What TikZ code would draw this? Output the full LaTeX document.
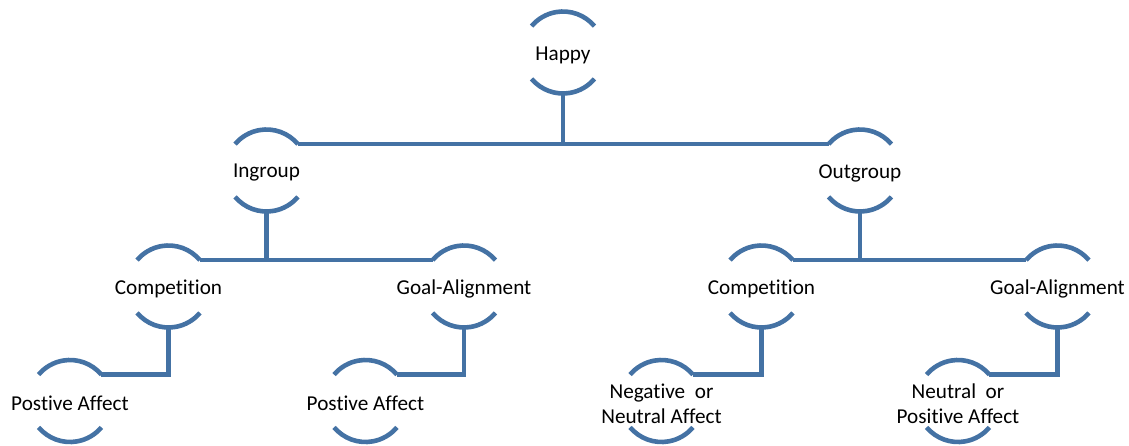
\documentclass[tikz,border=0pt]{standalone}
\usepackage{fontspec}
\setmainfont{Carlito}[Ligatures={NoCommon}]
\definecolor{linkblue}{RGB}{68,114,164}
\tikzset{
  bub/.style={circle, minimum size=82pt, inner sep=0pt, outer sep=0pt},
  txt/.style={font=\fontsize{21.2}{25}\selectfont, align=center, text=black, inner sep=0pt, yshift=-2.5pt},
  link/.style={draw=linkblue, line width=4.6pt},
}
\begin{document}
\begin{tikzpicture}[x=1pt,y=1pt]
\useasboundingbox (0,0) rectangle (1129,445);
% nodes
\node[bub, label={[txt]center:Happy}] (happy) at (563,392.5) {};
\node[bub, label={[txt]center:Ingroup}] (ing) at (266.5,274.5) {};
\node[bub, label={[txt]center:Outgroup}] (out) at (860,274.5) {};
\node[bub, label={[txt]center:Competition}] (compL) at (168.5,158.5) {};
\node[bub, label={[txt]center:Goal-Alignment}] (goalL) at (464,158.5) {};
\node[bub, label={[txt]center:Competition}] (compR) at (761.5,158.5) {};
\node[bub, label={[txt]center:Goal-Alignment}] (goalR) at (1057.5,158.5) {};
\node[bub, label={[txt]center:Postive Affect}] (posA) at (70,44) {};
\node[bub, label={[txt]center:Postive Affect}] (posB) at (365.5,44) {};
\node[bub, label={[txt]center:Negative\ \ or\\Neutral Affect}] (negR) at (661.5,44) {};
\node[bub, label={[txt]center:Neutral\ \ or\\Positive Affect}] (neuR) at (958,44) {};
% bracket arcs
\foreach \n in {happy,ing,out,compL,goalL,compR,goalR,posA,posB,negR,neuR}{
  \draw[link] (\n.40) arc[start angle=40, end angle=140, radius=41pt];
  \draw[link] (\n.220) arc[start angle=220, end angle=320, radius=41pt];
}
% connectors
\draw[link] (happy.south) -- (happy.south |- ing.40);
\draw[link] (ing.40) -- (out.140);
\draw[link] (ing.south) -- (ing.south |- compL.40);
\draw[link] (compL.40) -- (goalL.140);
\draw[link] (out.south) -- (out.south |- compR.40);
\draw[link] (compR.40) -- (goalR.140);
\draw[link] (compL.south) |- (posA.40);
\draw[link] (goalL.south) |- (posB.40);
\draw[link] (compR.south) |- (negR.40);
\draw[link] (goalR.south) |- (neuR.40);
\end{tikzpicture}
\end{document}
